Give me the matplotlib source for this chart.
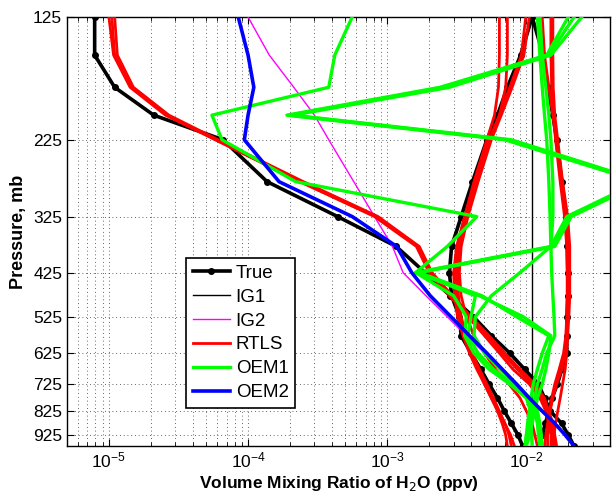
import matplotlib
matplotlib.use("Agg")
import matplotlib.pyplot as plt
from matplotlib.ticker import FixedLocator, NullLocator, LogLocator

plt.rcParams['font.family'] = ['Liberation Sans', 'DejaVu Sans']

# pressure levels (mb)
p = [125, 150, 175, 200, 225, 275, 325, 375, 425, 475,
     525, 575, 625, 675, 725, 775, 825, 875, 925, 975]

# true profiles
true_dry = [7.9e-6, 7.9e-6, 1.1e-5, 2.1e-5, 6.6e-5, 1.37e-4, 4.4e-4, 1.16e-3, 1.87e-3, 2.84e-3,
            4.16e-3, 5.6e-3, 7.6e-3, 9.7e-3, 1.22e-2, 1.35e-2, 1.49e-2, 1.79e-2, 2.0e-2, 2.2e-2]
true_mid = [1.1e-2, 9.1e-3, 7.3e-3, 6.2e-3, 5.2e-3, 4.1e-3, 3.4e-3, 2.9e-3, 2.8e-3, 2.9e-3,
            3.3e-3, 3.4e-3, 4.0e-3, 4.7e-3, 5.4e-3, 6.2e-3, 6.95e-3, 7.8e-3, 8.7e-3, 9.4e-3]
true_wet = [1.1e-2, 1.32e-2, 1.43e-2, 1.55e-2, 1.65e-2, 1.8e-2, 1.94e-2, 1.97e-2, 1.98e-2, 1.98e-2,
            1.96e-2, 1.95e-2, 1.95e-2, 1.8e-2, 1.67e-2, 1.53e-2, 1.45e-2, 1.37e-2, 1.3e-2, 1.24e-2]

# initial guesses
ig1 = [1.1e-2] * len(p)
ig2 = [1.0e-4, 1.42e-4, 2.13e-4, 3.0e-4, 3.8e-4, 5.75e-4, 8.1e-4, 1.09e-3, 1.3e-3, 1.9e-3,
       2.7e-3, 3.7e-3, 5.0e-3, 6.4e-3, 8.2e-3, 1.02e-2, 1.28e-2, 1.58e-2, 1.9e-2, 2.2e-2]

# RTLS retrievals
rtls = [
    [1.05e-5, 1.1e-5, 1.45e-5, 2.6e-5, 5.9e-5, 2.4e-4, 8.3e-4, 1.65e-3, 2.05e-3, 2.9e-3,
     4.0e-3, 5.4e-3, 7.0e-3, 9.0e-3, 1.15e-2, 1.35e-2, 1.45e-2, 1.55e-2, 1.6e-2, 1.65e-2],
    [1.1e-5, 1.15e-5, 1.5e-5, 2.7e-5, 6.1e-5, 2.5e-4, 8.6e-4, 1.7e-3, 2.1e-3, 2.95e-3,
     3.9e-3, 5.2e-3, 6.7e-3, 8.6e-3, 1.1e-2, 1.3e-2, 1.42e-2, 1.5e-2, 1.55e-2, 1.58e-2],
    [1.0e-5, 1.08e-5, 1.42e-5, 2.55e-5, 5.8e-5, 2.35e-4, 8.1e-4, 1.62e-3, 2.0e-3, 2.8e-3,
     3.8e-3, 5.0e-3, 6.4e-3, 8.0e-3, 1.05e-2, 1.25e-2, 1.38e-2, 1.45e-2, 1.5e-2, 1.5e-2],
    [6.4e-3, 6.4e-3, 6.3e-3, 5.9e-3, 5.2e-3, 4.2e-3, 3.6e-3, 3.2e-3, 3.1e-3, 3.15e-3,
     3.3e-3, 3.6e-3, 4.0e-3, 4.5e-3, 5.0e-3, 5.6e-3, 6.2e-3, 6.7e-3, 7.1e-3, 7.3e-3],
    [7.3e-3, 7.3e-3, 7.1e-3, 6.4e-3, 5.5e-3, 4.4e-3, 3.7e-3, 3.3e-3, 3.2e-3, 3.25e-3,
     3.4e-3, 3.7e-3, 4.1e-3, 4.6e-3, 5.2e-3, 5.8e-3, 6.4e-3, 7.0e-3, 7.5e-3, 7.8e-3],
    [9.9e-3, 9.2e-3, 7.6e-3, 6.4e-3, 5.4e-3, 4.3e-3, 3.6e-3, 3.15e-3, 3.0e-3, 3.05e-3,
     3.2e-3, 3.5e-3, 3.9e-3, 4.4e-3, 5.0e-3, 5.6e-3, 6.3e-3, 7.0e-3, 7.7e-3, 8.2e-3],
    [1.05e-2, 9.6e-3, 7.9e-3, 6.6e-3, 5.6e-3, 4.5e-3, 3.8e-3, 3.4e-3, 3.3e-3, 3.4e-3,
     3.7e-3, 4.2e-3, 5.0e-3, 6.0e-3, 7.5e-3, 9.0e-3, 1.0e-2, 1.1e-2, 1.15e-2, 1.2e-2],
    [1.3e-2, 1.35e-2, 1.45e-2, 1.55e-2, 1.65e-2, 1.8e-2, 1.95e-2, 2.0e-2, 2.0e-2, 2.0e-2,
     1.98e-2, 1.95e-2, 1.9e-2, 1.8e-2, 1.65e-2, 1.55e-2, 1.48e-2, 1.42e-2, 1.38e-2, 1.35e-2],
    [1.5e-2, 1.5e-2, 1.52e-2, 1.56e-2, 1.62e-2, 1.75e-2, 1.88e-2, 1.95e-2, 1.97e-2, 1.97e-2,
     1.95e-2, 1.92e-2, 1.85e-2, 1.72e-2, 1.6e-2, 1.52e-2, 1.47e-2, 1.44e-2, 1.42e-2, 1.42e-2],
    [1.55e-2, 1.55e-2, 1.56e-2, 1.6e-2, 1.68e-2, 1.82e-2, 1.98e-2, 2.05e-2, 2.05e-2, 2.05e-2,
     2.02e-2, 1.98e-2, 1.95e-2, 1.9e-2, 1.82e-2, 1.75e-2, 1.68e-2, 1.62e-2, 1.58e-2, 1.55e-2],
]

# OEM1 retrievals
oem1 = [
    [5.6e-4, 4.2e-4, 3.8e-4, 5.5e-5, 6.5e-5, 2.2e-4, 4.4e-3, 2.7e-3, 1.6e-3, 3.0e-3,
     3.7e-3, 3.6e-3, 4.2e-3, 5.4e-3, 7.6e-3, 1.0e-2, 1.07e-2, 1.08e-2, 1.09e-2, 1.1e-2],
    [2.0e-2, 1.4e-2, 2.4e-3, 1.9e-4, 7.0e-3, 6.5e-2, 1.95e-2, 1.5e-2, 1.6e-3, 4.6e-3,
     9.5e-3, 1.5e-2, 1.45e-2, 1.38e-2, 1.3e-2, 1.2e-2, 1.15e-2, 1.1e-2, 1.05e-2, 1.0e-2],
    [2.2e-2, 1.45e-2, 2.6e-3, 2.0e-4, 7.4e-3, 6.8e-2, 2.0e-2, 1.55e-2, 1.65e-3, 4.3e-3,
     4.0e-3, 3.8e-3, 4.5e-3, 5.8e-3, 8.0e-3, 1.05e-2, 1.2e-2, 1.25e-2, 1.28e-2, 1.3e-2],
    [2.5e-2, 1.5e-2, 2.8e-3, 2.1e-4, 7.8e-3, 7.0e-2, 2.1e-2, 1.6e-2, 1.7e-3, 4.8e-3,
     8.5e-3, 1.45e-2, 1.3e-2, 1.2e-2, 1.12e-2, 1.08e-2, 1.05e-2, 1.02e-2, 1.0e-2, 9.8e-3],
    [1.2e-2, 1.25e-2, 1.3e-2, 1.35e-2, 1.4e-2, 1.45e-2, 1.48e-2, 1.5e-2, 1.52e-2, 1.55e-2,
     1.58e-2, 1.6e-2, 1.4e-2, 1.3e-2, 1.2e-2, 1.15e-2, 1.1e-2, 1.05e-2, 1.0e-2, 9.8e-3],
    [1.25e-2, 1.3e-2, 1.38e-2, 1.45e-2, 1.5e-2, 1.55e-2, 1.55e-2, 1.5e-2, 9.0e-3, 5.6e-3,
     4.3e-3, 4.2e-3, 5.0e-3, 6.5e-3, 8.5e-3, 1.05e-2, 1.15e-2, 1.2e-2, 1.22e-2, 1.25e-2],
]

# OEM2 retrieval
oem2 = [8.5e-5, 1.0e-4, 1.1e-4, 1.0e-4, 9.4e-5, 1.67e-4, 5.6e-4, 1.17e-3, 1.5e-3, 2.04e-3,
        2.87e-3, 3.9e-3, 5.2e-3, 6.7e-3, 8.5e-3, 1.05e-2, 1.3e-2, 1.6e-2, 1.9e-2, 2.2e-2]

yticks = [125, 225, 325, 425, 525, 625, 725, 825, 925]

fig = plt.figure(figsize=(6.12, 4.93), dpi=100)
ax = fig.add_axes([0.1095, 0.0953, 0.8875, 0.8702])

for k, prof in enumerate([true_dry, true_mid, true_wet]):
    ax.plot(prof, p, color='k', lw=2.6, marker='.', ms=8,
            label='True' if k == 0 else None, zorder=3)
ax.plot(ig1, p, color='k', lw=1.0, label='IG1', zorder=3)
ax.plot(ig2, p, color='magenta', lw=1.0, label='IG2', zorder=3)
for k, prof in enumerate(rtls):
    ax.plot(prof, p, color='red', lw=2.0, label='RTLS' if k == 0 else None, zorder=4)
for k, prof in enumerate(oem1):
    ax.plot(prof, p, color=(0, 1, 0), lw=2.4, label='OEM1' if k == 0 else None, zorder=5)
ax.plot(oem2, p, color='blue', lw=2.6, label='OEM2', zorder=6)

ax.set_xscale('log')
ax.set_yscale('log')
ax.set_xlim(5e-6, 4e-2)
ax.set_ylim(975, 125)
ax.yaxis.set_major_locator(FixedLocator(yticks))
ax.yaxis.set_minor_locator(NullLocator())
ax.set_yticklabels([str(t) for t in yticks])
ax.xaxis.set_major_locator(LogLocator(base=10, numticks=10))
ax.xaxis.set_minor_locator(LogLocator(base=10, subs=range(2, 10), numticks=20))

ax.grid(True, which='major', axis='both', ls=(0, (1, 3.5)), color='0.2', lw=0.6)
ax.grid(True, which='minor', axis='x', ls=(0, (1, 3.5)), color='0.2', lw=0.6)
ax.tick_params(which='both', direction='in', top=True, right=True, labelsize=12.5)
ax.tick_params(which='major', length=5, width=0.8)
ax.tick_params(which='minor', length=3, width=0.6)
for s in ax.spines.values():
    s.set_linewidth(1.0)

ax.set_ylabel('Pressure, mb', fontsize=13, fontweight='bold', labelpad=4)
ax.set_xlabel('Volume Mixing Ratio of H$_2$O (ppv)', fontsize=12.5, fontweight='bold', labelpad=2)

leg = ax.legend(loc='upper left', bbox_to_anchor=(0.219, 0.438), fontsize=13.5,
                fancybox=False, framealpha=1, edgecolor='k', handlelength=2.0,
                borderpad=0.35, labelspacing=0.36, handletextpad=0.3, borderaxespad=0)
leg.get_frame().set_linewidth(1.2)

fig.savefig('out.png', dpi=100)
